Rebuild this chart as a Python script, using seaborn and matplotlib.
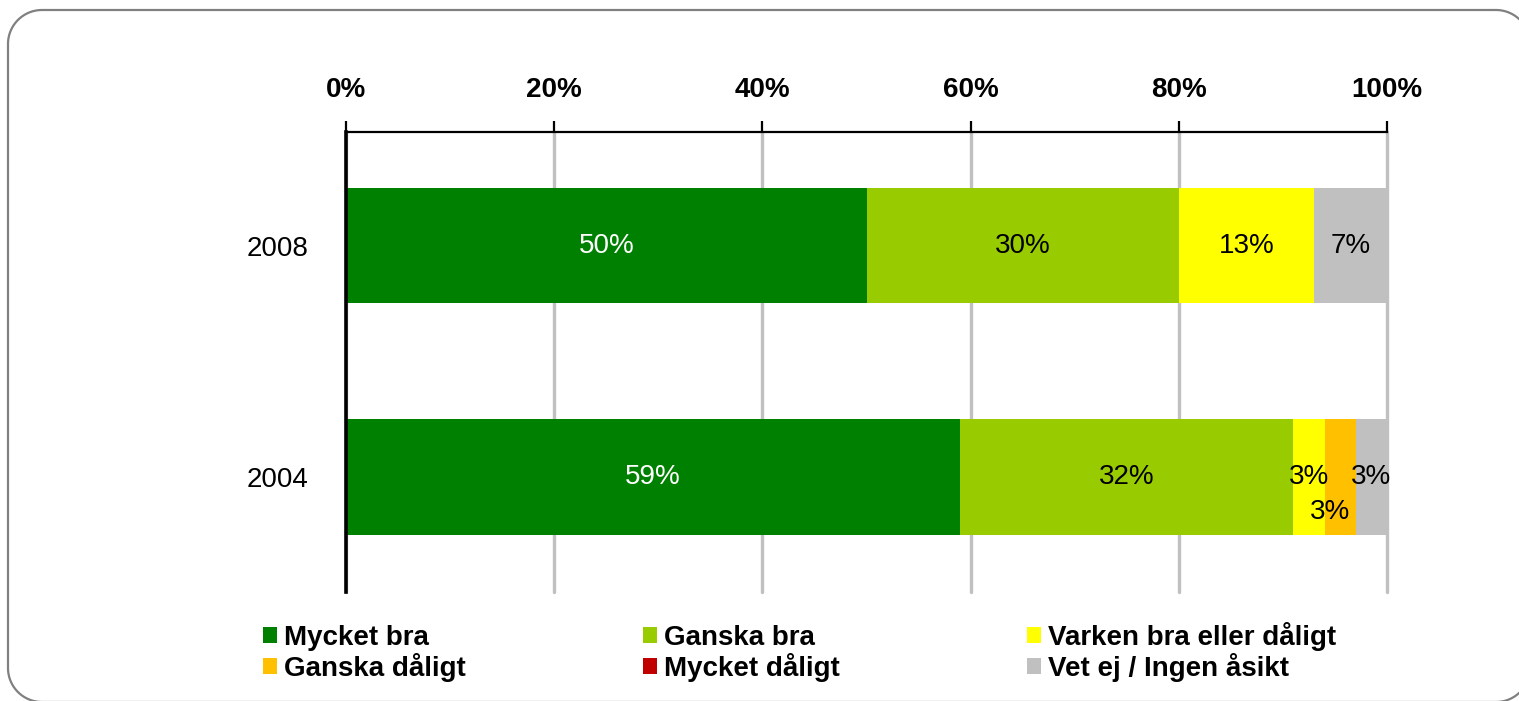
import numpy as np
import pandas as pd
import matplotlib
matplotlib.use("Agg")
import matplotlib.pyplot as plt
from matplotlib.patches import Patch, PathPatch
from matplotlib.path import Path
from matplotlib.transforms import Affine2D
import seaborn as sns

# Survey answers per year, share of respondents in percent
years = ["2008", "2004"]
categories = ["Mycket bra", "Ganska bra", "Varken bra eller dåligt",
              "Ganska dåligt", "Mycket dåligt", "Vet ej / Ingen åsikt"]
values_2008 = [50, 30, 13, 0, 0, 7]
values_2004 = [59, 32, 3, 3, 0, 3]
colors = ["#008000", "#99CC00", "#FFFF00", "#FFC000", "#C00000", "#C0C0C0"]
label_colors = ["white", "black", "black", "black", "black", "black"]
x_ticks = [0, 20, 40, 60, 80, 100]

sns.set_theme(style="white")
plt.rcParams["font.family"] = ["Liberation Sans", "DejaVu Sans"]
plt.rcParams["text.color"] = "black"

W, H = 1519, 701
fig = plt.figure(figsize=(W / 100, H / 100), dpi=100)
ax = fig.add_axes([346 / W, 109 / H, (1387 - 346) / W, (592 - 131.7) / H])

data = np.array([values_2008, values_2004], dtype=float)
cum = np.cumsum(data, axis=1)

# Stacked horizontal bars: draw cumulative totals from the last segment back
for i in range(len(categories) - 1, -1, -1):
    df = pd.DataFrame({"year": years, "total": cum[:, i]})
    sns.barplot(data=df, x="total", y="year", order=years, orient="h",
                color=colors[i], saturation=1, width=0.5, ax=ax,
                linewidth=0, zorder=2)

# Value labels centred in each segment
for r, year in enumerate(years):
    for i, v in enumerate(data[r]):
        if v <= 0:
            continue
        xc = cum[r, i] - v / 2
        yc = r
        if year == "2004" and categories[i] == "Ganska dåligt":
            xc -= 1.0
            yc += 0.15
        ax.text(xc, yc, f"{v:.0f}%", ha="center", va="center",
                fontsize=20, color=label_colors[i], zorder=5)

ax.set_xlim(0, 100)
ax.set_ylim(1.497, -0.492)
ax.set_xticks(x_ticks)
ax.set_xticklabels([f"{t}%" for t in x_ticks], fontsize=20, fontweight="bold")
ax.xaxis.tick_top()
ax.tick_params(axis="x", which="major", direction="out", length=8, width=1.6,
               color="black", pad=13, top=True, bottom=False, labelcolor="black")
ax.tick_params(axis="y", length=0, pad=27, labelsize=20, labelcolor="black")
ax.set_xlabel("")
ax.set_ylabel("")

ax.xaxis.grid(True, color="#C0C0C0", linewidth=2.4)
ax.yaxis.grid(False)
ax.set_axisbelow(True)
for gl in ax.get_xgridlines():
    gl.set_clip_on(False)

for side in ["right", "bottom"]:
    ax.spines[side].set_visible(False)
ax.spines["top"].set_color("black")
ax.spines["top"].set_linewidth(1.6)
ax.spines["left"].set_color("black")
ax.spines["left"].set_linewidth(2.6)

# Legend laid out as three columns of two rows each
handles = [Patch(facecolor=c, edgecolor="none") for c in colors]
columns = [(0, 3), (1, 4), (2, 5)]
col_x = [263, 643, 1027]
col_top = [625, 625, 622]
for (a, b), xpix, ypix in zip(columns, col_x, col_top):
    fig.legend([handles[a], handles[b]], [categories[a], categories[b]],
               loc="upper left", bbox_to_anchor=(xpix / W, 1 - ypix / H),
               frameon=False, borderpad=0, borderaxespad=0,
               handlelength=0.5, handleheight=0.5, handletextpad=0.25,
               labelspacing=0.08, labelcolor="black",
               prop={"family": ["Liberation Sans", "DejaVu Sans"],
                     "weight": "bold", "size": 20})


# Rounded frame around the whole chart, built from circular arcs in pixel units
def rounded_rect(x0, y0, x1, y1, r):
    """Closed rounded rectangle; y measured downward from the top edge."""
    pieces = []
    corners = [((x1 - r, y0 + r), 90, 0),     # top right
               ((x1 - r, y1 - r), 0, -90),    # bottom right
               ((x0 + r, y1 - r), -90, -180), # bottom left
               ((x0 + r, y0 + r), 180, 90)]   # top left
    for (cx, cy), a0, a1 in corners:
        t = np.radians(np.linspace(a0, a1, 30))
        pieces.append(np.column_stack([cx + r * np.cos(t), cy - r * np.sin(t)]))
    pts = np.vstack(pieces + [pieces[0][:1]])
    return pts


pts = rounded_rect(8, 10, 1530, 702, 34)
pts[:, 1] = H - pts[:, 1]
frame_path = Path(pts)
frame = PathPatch(frame_path, transform=Affine2D().scale(1 / 100) + fig.dpi_scale_trans,
                  fill=False, edgecolor="#808080", linewidth=1.6, zorder=10)
fig.add_artist(frame)

fig.savefig("out.png", dpi=100, facecolor="white")
